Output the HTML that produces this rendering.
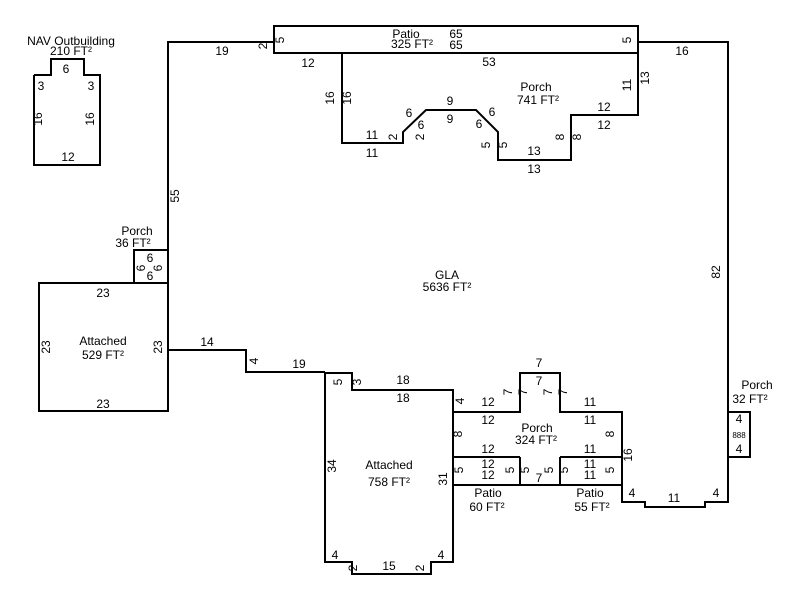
<!DOCTYPE html>
<html><head><style>
body{margin:0;background:#fff}
svg{display:block}
text{font-family:"Liberation Sans",sans-serif;font-size:12px;fill:#000;text-anchor:middle}
.l{fill:none;stroke:#000;stroke-width:2}
</style></head><body>
<svg width="800" height="600" viewBox="0 0 800 600">
<polyline class="l" points="274,42 168,42 168,350 246,350 246,372 325,372"/>
<polyline class="l" points="638,42 728,42 728,502 705,502 705,507 645,507 645,502 622,502 622,485"/>
<rect class="l" x="274" y="26" width="364" height="27"/>
<polyline class="l" points="342,53 342,143 403,143 403,132 426,110 476,110 498,132 498,160 571,160 571,115 638,115 638,53"/>
<rect class="l" x="134" y="250" width="34" height="33"/>
<rect class="l" x="39" y="283" width="129" height="128"/>
<polyline class="l" points="325,373 352,373 352,390 453,390 453,562 431,562 431,574 352,574 352,562 325,562 325,373"/>
<polyline class="l" points="453,412 520,412 520,373 560,373 560,412 622,412 622,485 453,485"/>
<line class="l" x1="453" y1="457" x2="520" y2="457"/>
<line class="l" x1="560" y1="457" x2="622" y2="457"/>
<line class="l" x1="520" y1="457" x2="520" y2="485"/>
<line class="l" x1="560" y1="457" x2="560" y2="485"/>
<rect class="l" x="728" y="412" width="22" height="45"/>
<polyline class="l" points="34,75 51,75 51,59 84,59 84,75 100,75 100,165 34,165 34,75"/>

<text x="71" y="45">NAV Outbuilding</text><text x="71" y="55">210 FT²</text>
<text x="66" y="73">6</text><text x="41" y="90">3</text><text x="91" y="90">3</text>
<text x="68" y="161">12</text>
<text transform="translate(42,119) rotate(-90)">16</text>
<text transform="translate(94,119) rotate(-90)">16</text>

<text x="137" y="235">Porch</text><text x="133" y="247">36 FT²</text>
<text x="150" y="262">6</text><text x="150" y="280">6</text>
<text transform="translate(145,268) rotate(-90)">6</text>
<text transform="translate(162,268) rotate(-90)">6</text>

<text x="103" y="297">23</text><text x="103" y="408">23</text>
<text x="103" y="345">Attached</text><text x="103" y="359">529 FT²</text>
<text transform="translate(50,347) rotate(-90)">23</text>
<text transform="translate(162,347) rotate(-90)">23</text>
<text x="207" y="346">14</text>
<text transform="translate(258,361) rotate(-90)">4</text>
<text x="299" y="368">19</text>
<text x="222" y="55">19</text>
<text transform="translate(179,196) rotate(-90)">55</text>
<text transform="translate(267,46) rotate(-90)">2</text>
<text transform="translate(284,40) rotate(-90)">5</text>
<text transform="translate(631,40) rotate(-90)">5</text>
<text x="406" y="38">Patio</text><text x="412" y="48">325 FT²</text>
<text x="456" y="38">65</text><text x="456" y="49">65</text>
<text x="489" y="66">53</text><text x="308" y="67">12</text>
<text x="682" y="55">16</text>
<text transform="translate(334,98) rotate(-90)">16</text>
<text transform="translate(351,98) rotate(-90)">16</text>
<text x="372" y="139">11</text><text x="372" y="157">11</text>
<text transform="translate(397,137) rotate(-90)">2</text>
<text transform="translate(424,137) rotate(-90)">2</text>
<text x="409" y="117">6</text><text x="421" y="129">6</text>
<text x="450" y="105">9</text><text x="450" y="123">9</text>
<text x="479" y="128">6</text><text x="492" y="116">6</text>
<text transform="translate(490,145) rotate(-90)">5</text>
<text transform="translate(507,145) rotate(-90)">5</text>
<text x="534" y="155">13</text><text x="534" y="173">13</text>
<text transform="translate(564,137) rotate(-90)">8</text>
<text transform="translate(581,137) rotate(-90)">8</text>
<text x="604" y="111">12</text><text x="604" y="129">12</text>
<text transform="translate(631,85) rotate(-90)">11</text>
<text transform="translate(649,78) rotate(-90)">13</text>
<text x="536" y="91">Porch</text><text x="538" y="104">741 FT²</text>
<text x="447" y="279">GLA</text><text x="447" y="291">5636 FT²</text>
<text transform="translate(720,272) rotate(-90)">82</text>
<text x="757" y="389">Porch</text><text x="750" y="403">32 FT²</text>
<text x="739" y="423">4</text><text x="739" y="453">4</text><text x="739" y="438" style="font-size:8px">888</text>
<text transform="translate(342,382) rotate(-90)">5</text>
<text transform="translate(361,382) rotate(-90)">3</text>
<text x="403" y="384">18</text><text x="403" y="402">18</text>
<text transform="translate(464,401) rotate(-90)">4</text>
<text x="488" y="406">12</text><text x="488" y="424">12</text>
<text x="488" y="453">12</text><text x="488" y="468">12</text><text x="488" y="479">12</text>
<text x="539" y="367">7</text><text x="539" y="385">7</text>
<text transform="translate(512,392) rotate(-90)">7</text>
<text transform="translate(527,392) rotate(-90)">7</text>
<text transform="translate(552,392) rotate(-90)">7</text>
<text transform="translate(567,392) rotate(-90)">7</text>
<text x="590" y="406">11</text><text x="590" y="424">11</text>
<text x="590" y="453">11</text><text x="590" y="468">11</text><text x="590" y="479">11</text>
<text x="537" y="432">Porch</text><text x="536" y="444">324 FT²</text>
<text transform="translate(462,434) rotate(-90)">8</text>
<text transform="translate(614,434) rotate(-90)">8</text>
<text transform="translate(632,455) rotate(-90)">16</text>
<text transform="translate(463,470) rotate(-90)">5</text>
<text transform="translate(514,470) rotate(-90)">5</text>
<text transform="translate(529,470) rotate(-90)">5</text>
<text transform="translate(553,470) rotate(-90)">5</text>
<text transform="translate(568,470) rotate(-90)">5</text>
<text transform="translate(614,470) rotate(-90)">5</text>
<text x="539" y="482">7</text>
<text x="488" y="497">Patio</text><text x="487" y="511">60 FT²</text>
<text x="590" y="497">Patio</text><text x="592" y="511">55 FT²</text>
<text x="632" y="497">4</text><text x="716" y="497">4</text><text x="674" y="502">11</text>
<text x="389" y="469">Attached</text><text x="389" y="486">758 FT²</text>
<text transform="translate(336,466) rotate(-90)">34</text>
<text transform="translate(447,479) rotate(-90)">31</text>
<text x="335" y="559">4</text><text x="441" y="559">4</text>
<text x="389" y="570">15</text>
<text transform="translate(357,568) rotate(-90)">2</text>
<text transform="translate(424,568) rotate(-90)">2</text>
</svg>
</body></html>
